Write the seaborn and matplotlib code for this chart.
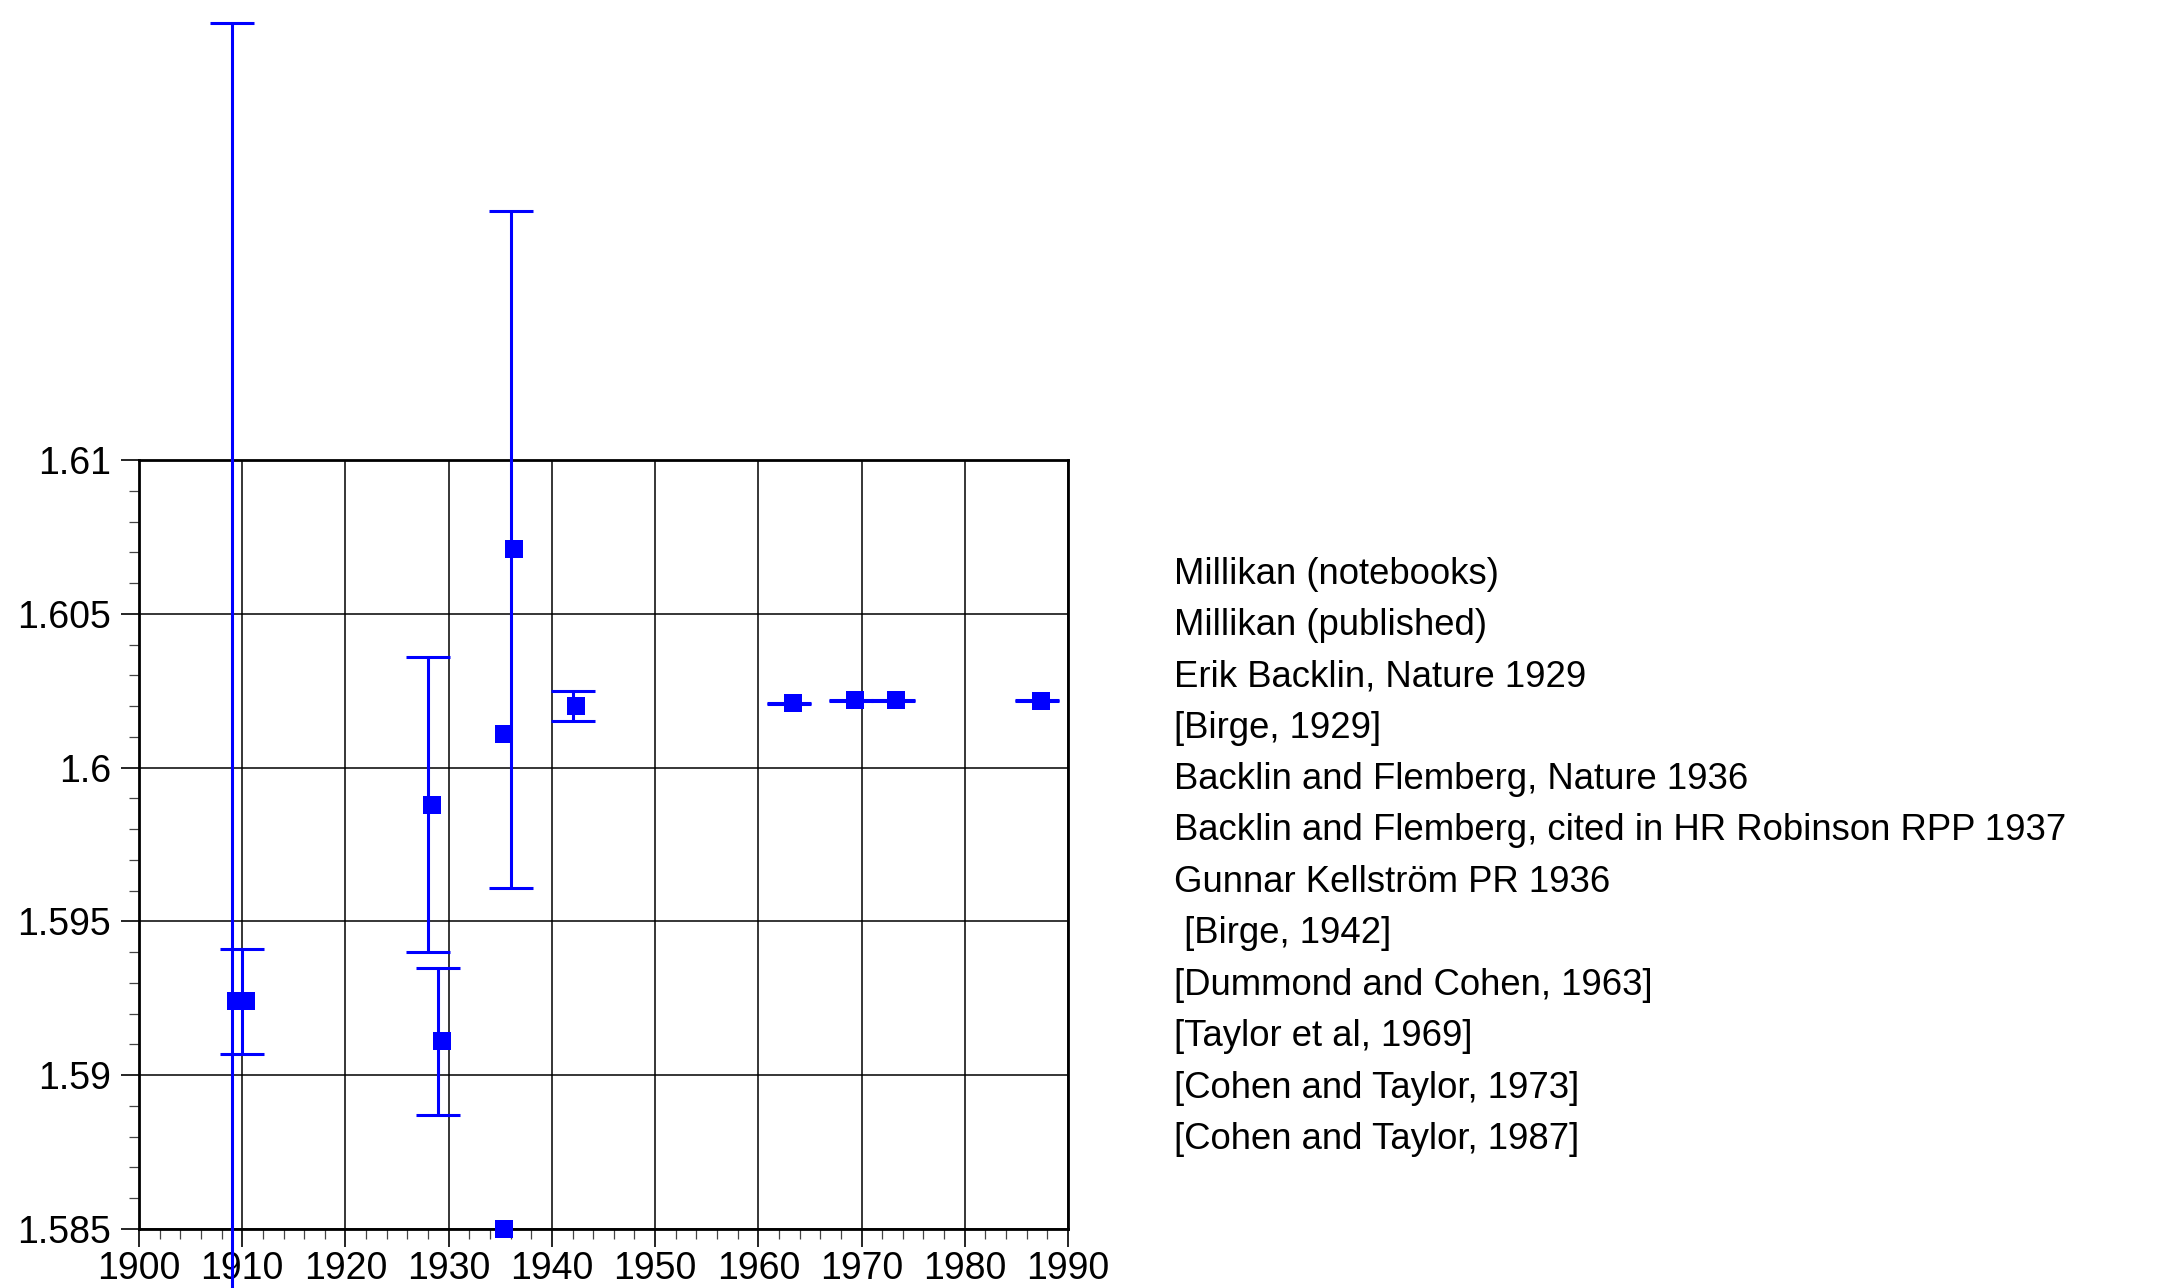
import numpy as np
import pandas as pd
import matplotlib
matplotlib.use("Agg")
import matplotlib.pyplot as plt
from matplotlib.ticker import MultipleLocator, FuncFormatter
import seaborn as sns

# Measurements of the elementary charge (units of 1e-19 C)
sources = [
    "Millikan (notebooks)",
    "Millikan (published)",
    "Erik Backlin, Nature 1929",
    "[Birge, 1929]",
    "Backlin and Flemberg, Nature 1936",
    "Backlin and Flemberg, cited in HR Robinson RPP 1937",
    "Gunnar Kellstr\u00f6m PR 1936",
    " [Birge, 1942]",
    "[Dummond and Cohen, 1963]",
    "[Taylor et al, 1969]",
    "[Cohen and Taylor, 1973]",
    "[Cohen and Taylor, 1987]",
]
years = [1909, 1910, 1928, 1929, 1935, 1936, 1935, 1942, 1963, 1969, 1973, 1987]
charge = [1.5924, 1.5924, 1.5988, 1.5911, 1.6011, 1.6071, 1.5850,
          1.6020, 1.60209, 1.60219, 1.60219, 1.60218]
uncertainty = [0.0318, 0.0017, 0.0048, 0.0024, np.nan, 0.0110, np.nan,
               0.0005, 0.00002, 0.00001, 0.00001, 0.00001]

df = pd.DataFrame({"source": sources, "year": years,
                   "e": charge, "err": uncertainty})

sns.set_theme(style="ticks")
plt.rcParams["font.family"] = ["Liberation Sans", "DejaVu Sans"]

W, H = 2183, 1288
fig = plt.figure(figsize=(W / 100, H / 100), dpi=100)
ax = fig.add_axes([139 / W, 1 - 1229 / H, (1068 - 139) / W, (1229 - 460) / H])

blue = "#0000ff"

# error bars (only where an uncertainty is given)
has_err = df["err"].notna()
eb = ax.errorbar(df.loc[has_err, "year"], df.loc[has_err, "e"],
                 yerr=df.loc[has_err, "err"], fmt="none", ecolor=blue,
                 elinewidth=2.2, capsize=15.5, capthick=2.2, zorder=3)
for part in list(eb.lines[1]) + list(eb.lines[2]):
    part.set_clip_on(False)

# square markers, drawn slightly right of the bar line
df["marker_x"] = df["year"] + 0.35
sns.scatterplot(data=df, x="marker_x", y="e", marker="s", s=13.5 ** 2,
                color=blue, linewidth=0, ax=ax, zorder=4, clip_on=False,
                legend=False)

ax.set_xlim(1900, 1990)
ax.set_ylim(1.585, 1.61)
ax.xaxis.set_major_locator(MultipleLocator(10))
ax.xaxis.set_minor_locator(MultipleLocator(2))
ax.yaxis.set_major_locator(MultipleLocator(0.005))
ax.yaxis.set_minor_locator(MultipleLocator(0.001))
ax.yaxis.set_major_formatter(FuncFormatter(lambda v, _: f"{v:g}"))
ax.xaxis.set_major_formatter(FuncFormatter(lambda v, _: f"{v:.0f}"))
ax.set_xlabel("")
ax.set_ylabel("")

ax.grid(True, which="major", color="black", linewidth=1.1)
ax.set_axisbelow(True)
for sp in ax.spines.values():
    sp.set_visible(True)
    sp.set_color("black")
    sp.set_linewidth(2.0)

ax.tick_params(axis="both", which="major", direction="out", length=13,
               width=1.2, color="black", labelsize=27, labelcolor="black")
ax.tick_params(axis="y", which="major", pad=7)
ax.tick_params(axis="x", which="major", pad=3)
ax.tick_params(axis="both", which="minor", direction="out", length=7,
               width=0.9, color="#444444")

# source list beside the plot
x0 = 1174 / W
y_first, y_step = 574, 51.4
for i, name in enumerate(sources):
    fig.text(x0, 1 - (y_first + i * y_step) / H, name, ha="left", va="center",
             fontsize=26.3, color="black")

fig.savefig("out.png", dpi=100, facecolor="white")
